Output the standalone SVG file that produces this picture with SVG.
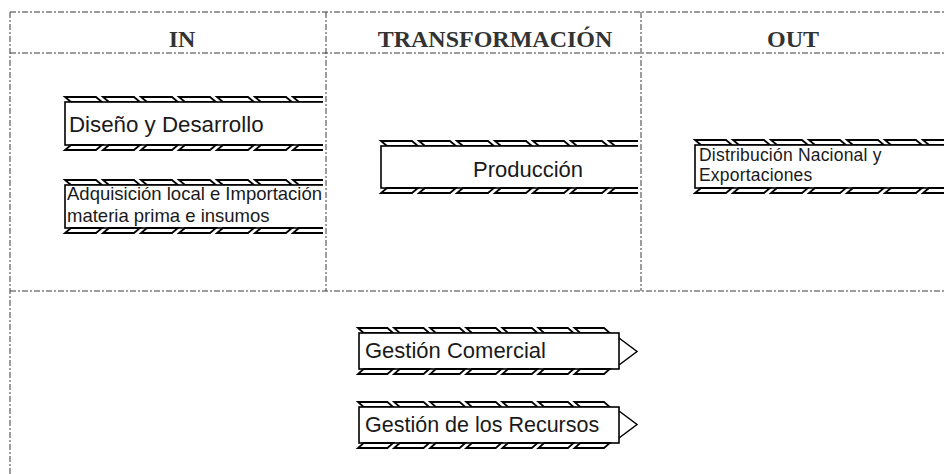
<svg xmlns="http://www.w3.org/2000/svg" xmlns:xlink="http://www.w3.org/1999/xlink" width="944" height="474" viewBox="0 0 944 474">
<style>
.lane{fill:none;stroke:#3a3a3a;stroke-width:1;stroke-dasharray:6 2 2 2}
.hdr{font-family:"Liberation Serif","Times New Roman",serif;font-weight:bold;font-size:24px;fill:#333;text-anchor:middle}
.box{fill:#fff;stroke:#000;stroke-width:1.6}
.band{fill:#fff;stroke:#000;stroke-width:1.8}
.tri{fill:none;stroke:#000;stroke-width:1.5}
.lbl{font-family:"Liberation Sans",Arial,sans-serif;fill:#1a1a1a}
</style>
<defs>
<path id="bandT" class="band" d="M0,0h31l6,5h-31z M38,0h31l6,5h-31z M76,0h31l6,5h-31z M114,0h31l6,5h-31z M152,0h31l6,5h-31z M190,0h31l6,5h-31z M228,0h31l6,5h-31z"/>
<path id="bandB" class="band" d="M6,0h31l-6,5h-31z M44,0h31l-6,5h-31z M82,0h31l-6,5h-31z M120,0h31l-6,5h-31z M158,0h31l-6,5h-31z M196,0h31l-6,5h-31z M234,0h31l-6,5h-31z"/>
<clipPath id="clipIn"><rect x="0" y="0" width="323" height="474"/></clipPath>
<clipPath id="clipTr"><rect x="0" y="0" width="638" height="474"/></clipPath>
</defs>
<rect width="944" height="474" fill="#fff"/>
<g id="lanes">
<path class="lane" d="M10,12H944 M10,53H944 M10,291H944 M10,12V474 M326,12V291 M641,12V291"/>
<text class="hdr" x="182" y="47">IN</text>
<text class="hdr" x="495" y="47">TRANSFORMACIÓN</text>
<text class="hdr" x="793" y="47">OUT</text>
</g>
<g id="connectors"></g>
<g id="diseno" clip-path="url(#clipIn)">
<use xlink:href="#bandT" x="65" y="97"/>
<rect class="box" x="65" y="102" width="300" height="43"/>
<use xlink:href="#bandB" x="65" y="145"/>
<text class="lbl" x="69" y="132" font-size="22.3">Diseño y Desarrollo</text>
</g>
<g id="adquisicion" clip-path="url(#clipIn)">
<use xlink:href="#bandT" x="65" y="180"/>
<rect class="box" x="65" y="185" width="300" height="43"/>
<use xlink:href="#bandB" x="65" y="228"/>
<text class="lbl" x="67" y="200" font-size="18.5">Adquisición local e Importación</text>
<text class="lbl" x="67" y="222" font-size="18.5">materia prima e insumos</text>
</g>
<g id="produccion" clip-path="url(#clipTr)">
<use xlink:href="#bandT" x="381" y="141"/>
<rect class="box" x="381" y="146" width="300" height="42"/>
<use xlink:href="#bandB" x="381" y="188"/>
<text class="lbl" x="473" y="177" font-size="22">Producción</text>
</g>
<g id="distribucion">
<use xlink:href="#bandT" x="695" y="140"/>
<rect class="box" x="695" y="145" width="300" height="43"/>
<use xlink:href="#bandB" x="695" y="188"/>
<text class="lbl" x="699" y="161" font-size="17.5" letter-spacing="0.2">Distribución Nacional y</text>
<text class="lbl" x="699" y="181" font-size="17.5" letter-spacing="0.2">Exportaciones</text>
</g>
<g id="gestion-comercial">
<use xlink:href="#bandT" transform="translate(358,328) scale(0.95,1)"/>
<rect class="box" x="359" y="333" width="260" height="36"/>
<use xlink:href="#bandB" transform="translate(358,369) scale(0.95,1)"/>
<path class="tri" d="M619,338L637,351.5L619,365"/>
<text class="lbl" x="365" y="358" font-size="22">Gestión Comercial</text>
</g>
<g id="gestion-recursos">
<use xlink:href="#bandT" transform="translate(358,402) scale(0.95,1)"/>
<rect class="box" x="359" y="407" width="260" height="36"/>
<use xlink:href="#bandB" transform="translate(358,443) scale(0.95,1)"/>
<path class="tri" d="M619,411L637,424.5L619,438"/>
<text class="lbl" x="365" y="432" font-size="21.5">Gestión de los Recursos</text>
</g>
</svg>
